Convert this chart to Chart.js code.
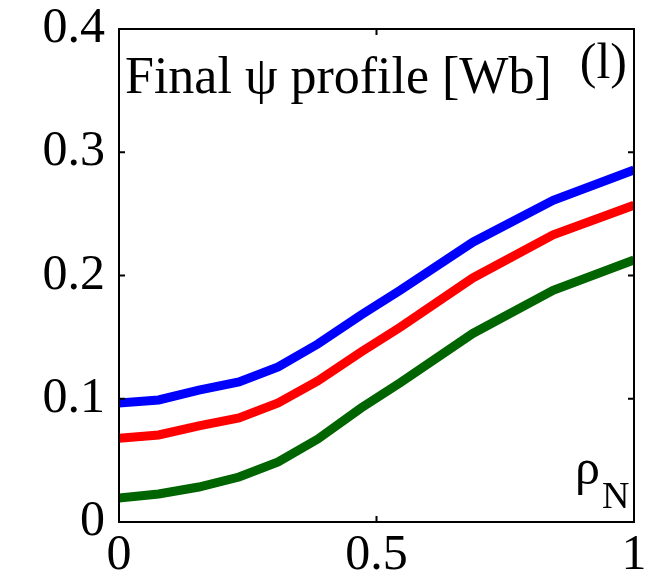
<!DOCTYPE html>
<html>
<head>
<meta charset="utf-8">
<script src="https://cdn.jsdelivr.net/npm/chart.js@4"></script>
<style>
  body { margin: 0; background: #fff; }
  #psiChart { display: block; }
</style>
</head>
<body>
<canvas id="psiChart" width="656" height="585"></canvas>
<script>
// normalised radius rho_N and final psi profiles [Wb]
const rho = [0, 0.077, 0.155, 0.233, 0.309, 0.386, 0.47, 0.546, 0.687, 0.843, 1];
const psiBlue = [0.0966, 0.099, 0.107, 0.1136, 0.1258, 0.1444, 0.168, 0.188, 0.227, 0.261, 0.2856];
const psiRed = [0.068, 0.0706, 0.078, 0.0844, 0.0966, 0.1144, 0.138, 0.158, 0.198, 0.233, 0.257];
const psiGreen = [0.0195, 0.0227, 0.0284, 0.0365, 0.0487, 0.0673, 0.0925, 0.113, 0.153, 0.188, 0.2126];

const xTicks = [0, 0.5, 1];
const yTicks = [0, 0.1, 0.2, 0.3, 0.4];

const serif = '"Liberation Serif", serif';

const toPoints = (ys) => rho.map((x, i) => ({ x: x, y: ys[i] }));

const makeSet = (ys, color) => ({
  data: toPoints(ys),
  borderColor: color,
  borderWidth: 9,
  pointRadius: 0,
  tension: 0,
  fill: false,
});

// box frame, inward ticks on all sides and the labels inside the axes
const framePlugin = {
  id: 'frame',
  afterDraw(chart) {
    const ctx = chart.ctx;
    const a = chart.chartArea;
    const xs = chart.scales.x;
    const ys = chart.scales.y;
    const tick = 6;
    ctx.save();
    ctx.strokeStyle = '#000';
    ctx.lineWidth = 2;
    ctx.strokeRect(a.left, a.top, a.right - a.left, a.bottom - a.top);
    ctx.beginPath();
    xTicks.forEach((v) => {
      const px = xs.getPixelForValue(v);
      ctx.moveTo(px, a.bottom); ctx.lineTo(px, a.bottom - tick);
      ctx.moveTo(px, a.top); ctx.lineTo(px, a.top + tick);
    });
    yTicks.forEach((v) => {
      const py = ys.getPixelForValue(v);
      ctx.moveTo(a.left, py); ctx.lineTo(a.left + tick, py);
      ctx.moveTo(a.right, py); ctx.lineTo(a.right - tick, py);
    });
    ctx.stroke();

    ctx.fillStyle = '#000';
    ctx.textBaseline = 'alphabetic';
    ctx.textAlign = 'left';
    ctx.font = '52px ' + serif;
    ctx.fillText('Final \u03C8 profile [Wb]', a.left + 6, a.top + 64);
    ctx.font = '50px ' + serif;
    ctx.textAlign = 'right';
    ctx.fillText('(l)', a.right - 7, a.top + 49);
    ctx.textAlign = 'left';
    ctx.fillText('\u03C1', a.right - 59, a.bottom - 38);
    ctx.font = '38px ' + serif;
    ctx.fillText('N', a.right - 32, a.bottom - 14);
    ctx.restore();
  },
};

const fmt = (v) => String(+v.toFixed(1));

new Chart(document.getElementById('psiChart'), {
  type: 'line',
  data: {
    datasets: [
      makeSet(psiBlue, '#0000ff'),
      makeSet(psiRed, '#ff0000'),
      makeSet(psiGreen, '#006400'),
    ],
  },
  options: {
    responsive: false,
    animation: false,
    layout: { padding: { top: 29, right: 22, left: 0, bottom: 0 } },
    plugins: { legend: { display: false }, tooltip: { enabled: false } },
    scales: {
      x: {
        type: 'linear',
        min: 0,
        max: 1,
        afterBuildTicks: (s) => { s.ticks = xTicks.map((v) => ({ value: v })); },
        afterFit: (s) => { s.height = 63; s.paddingLeft = 0; s.paddingRight = 0; },
        grid: { display: false, drawTicks: false },
        border: { display: false },
        ticks: {
          color: '#000',
          font: { family: serif, size: 50 },
          padding: 4,
          maxRotation: 0,
          callback: fmt,
        },
      },
      y: {
        type: 'linear',
        min: 0,
        max: 0.4,
        afterBuildTicks: (s) => { s.ticks = yTicks.map((v) => ({ value: v })); },
        afterFit: (s) => { s.width = 119; s.paddingTop = 0; s.paddingBottom = 0; },
        grid: { display: false, drawTicks: false },
        border: { display: false },
        ticks: {
          color: '#000',
          font: { family: serif, size: 50 },
          padding: 14,
          callback: fmt,
        },
      },
    },
  },
  plugins: [framePlugin],
});
</script>
</body>
</html>
